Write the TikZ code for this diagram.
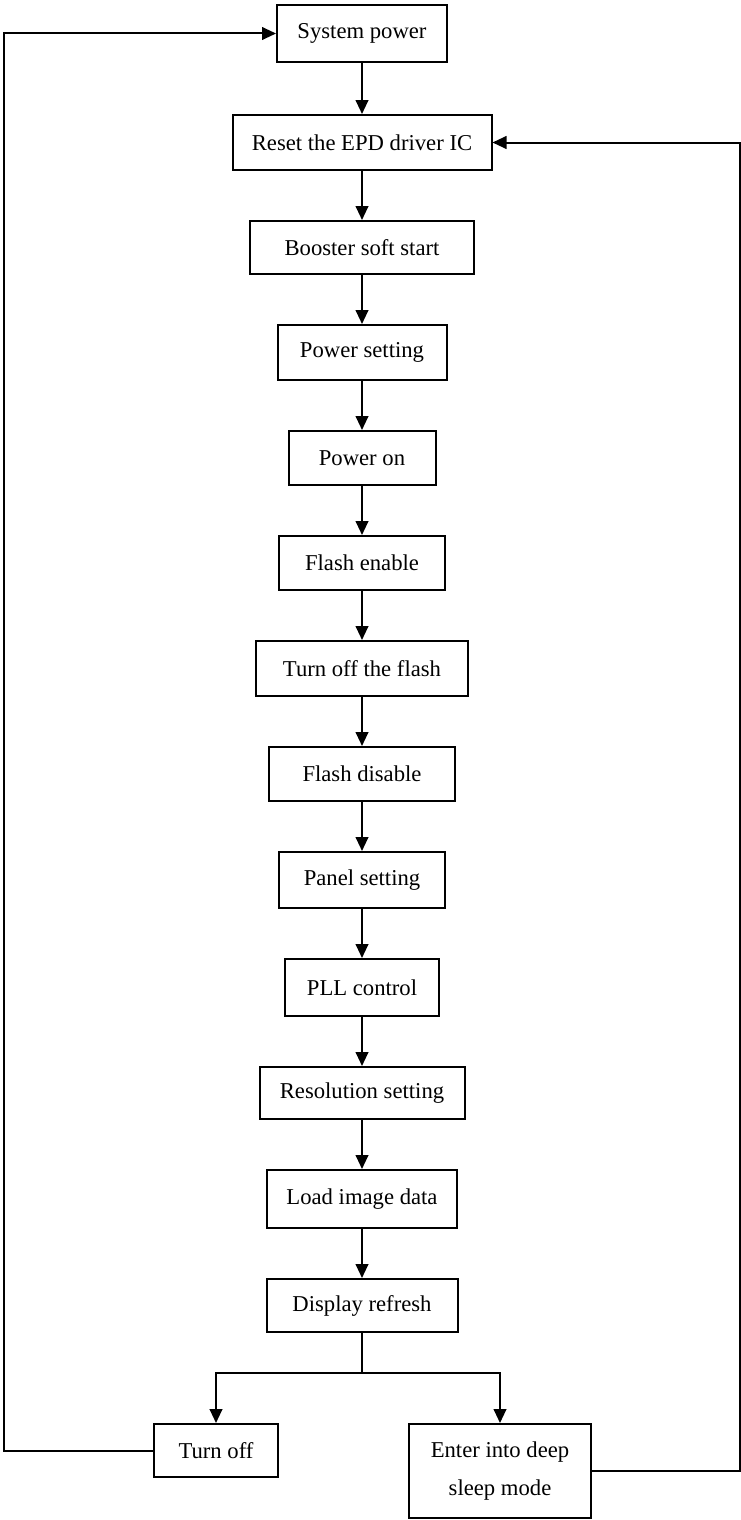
\documentclass[tikz,border=0pt]{standalone}
\usepackage{fontspec}
\setmainfont{Liberation Serif}
\usetikzlibrary{arrows.meta}
\begin{document}
\begin{tikzpicture}[x=0.75pt,y=-0.75pt,
  box/.style={draw, line width=1.5pt, inner sep=0pt, align=center,
    font=\fontsize{17}{28.5}\selectfont, anchor=center},
  flow/.style={line width=1.5pt, -{Triangle[length=10.5pt,width=9.5pt]}},
  link/.style={line width=1.5pt}]
\useasboundingbox (0,0) rectangle (741,1520);
\fill[white] (0,0) rectangle (741,1520);
\node[box, minimum width=127.5pt, minimum height=42.75pt] (n1) at (362,33.5) {System power};
\node[box, minimum width=194.25pt, minimum height=41.25pt] (n2) at (362,142.5) {Reset the EPD driver IC};
\node[box, minimum width=168pt, minimum height=39.75pt] (n3) at (362,247.5) {Booster soft start};
\node[box, minimum width=126.75pt, minimum height=41.25pt] (n4) at (362,352.5) {Power setting};
\node[box, minimum width=110.25pt, minimum height=40.5pt] (n5) at (362,458) {Power on};
\node[box, minimum width=124.5pt, minimum height=40.5pt] (n6) at (362,563) {Flash enable};
\node[box, minimum width=159pt, minimum height=41.25pt] (n7) at (362,668.5) {Turn off the flash};
\node[box, minimum width=139.5pt, minimum height=40.5pt] (n8) at (362,774) {Flash disable};
\node[box, minimum width=124.5pt, minimum height=42pt] (n9) at (362,880) {Panel setting};
\node[box, minimum width=115.5pt, minimum height=42.75pt] (n10) at (362,987.5) {PLL control};
\node[box, minimum width=153.75pt, minimum height=39pt] (n11) at (362,1093) {Resolution setting};
\node[box, minimum width=142.5pt, minimum height=43.5pt] (n12) at (362,1199) {Load image data};
\node[box, minimum width=143.25pt, minimum height=39.75pt] (n13) at (362,1305.5) {Display refresh};
\node[box, minimum width=93pt, minimum height=39.75pt] (off) at (216,1450.5) {Turn off};
\node[box, minimum width=136.5pt, minimum height=70.5pt] (sleep) at (500,1471) {\raisebox{-3pt}{Enter into deep}\\\raisebox{-3pt}{sleep mode}};
\foreach \a/\b in {n1/n2,n2/n3,n3/n4,n4/n5,n5/n6,n6/n7,n7/n8,n8/n9,n9/n10,n10/n11,n11/n12,n12/n13}
  \draw[flow] (\a.south) -- (\b.north);
\coordinate (br) at (362,1373);
\draw[link] (n13.south) -- (br);
\draw[flow] (br) -| (off.north);
\draw[flow] (br) -| (sleep.north);
\coordinate (rt) at (739.5,142.5);
\draw[flow] (sleep.east) -| (rt) -- (n2.east);
\coordinate (lt) at (3.5,33.5);
\draw[flow] (off.west) -| (lt) -- (n1.west);
\end{tikzpicture}
\end{document}
